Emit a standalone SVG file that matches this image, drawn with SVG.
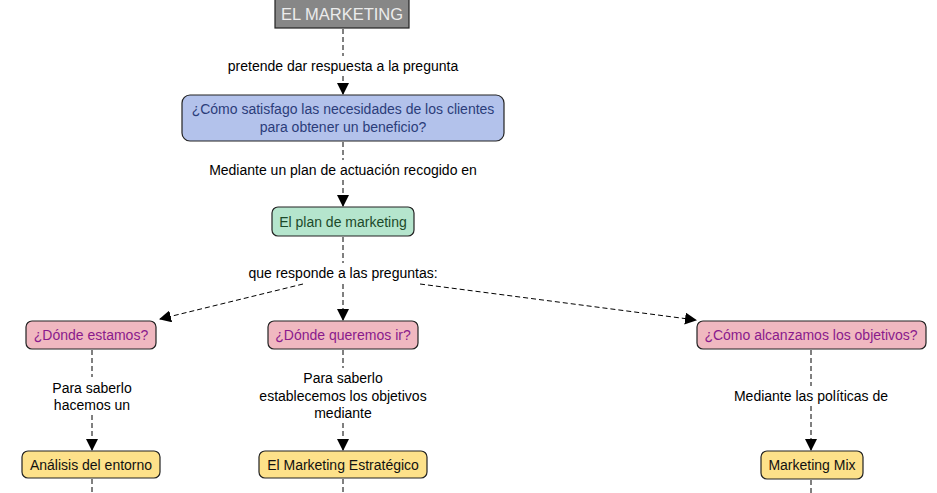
<svg xmlns="http://www.w3.org/2000/svg" width="937" height="493" viewBox="0 0 937 493">
<defs>
<marker id="ah" markerWidth="12" markerHeight="12" refX="11" refY="6" orient="auto" markerUnits="userSpaceOnUse">
<path d="M0,0 L12,6 L0,12 Z" fill="#000"/>
</marker>
<style>
text{font-family:"Liberation Sans",Arial,sans-serif;font-size:14px;text-anchor:middle;dominant-baseline:central}
.c{stroke:#000;stroke-width:1;stroke-dasharray:5,3;fill:none}
.a{marker-end:url(#ah)}
.box{stroke:#222;stroke-width:1.2}
.blue{fill:#b3c2eb}
.green{fill:#b5e5cd}
.pink{fill:#f0b8c0}
.yel{fill:#fde18a}
.lbl{fill:#000}
</style>
</defs>
<rect width="937" height="493" fill="#fff"/>
<g id="connectors">
<line class="c" x1="343" y1="29" x2="343" y2="56"/>
<line class="c a" x1="343" y1="76" x2="343" y2="94"/>
<line class="c" x1="343" y1="142" x2="343" y2="160"/>
<line class="c a" x1="343" y1="180" x2="343" y2="206"/>
<line class="c" x1="343" y1="237" x2="343" y2="263"/>
<line class="c a" x1="303" y1="284" x2="160" y2="319"/>
<line class="c a" x1="343" y1="284" x2="343" y2="320"/>
<line class="c a" x1="420" y1="284" x2="696" y2="320"/>
<line class="c" x1="92" y1="350" x2="92" y2="377"/>
<line class="c a" x1="92" y1="415" x2="92" y2="450"/>
<line class="c" x1="343" y1="350" x2="343" y2="368"/>
<line class="c a" x1="343" y1="423" x2="343" y2="450"/>
<line class="c" x1="811" y1="350" x2="811" y2="386"/>
<line class="c a" x1="811" y1="406" x2="811" y2="450"/>
<line class="c" x1="92" y1="479" x2="92" y2="493"/>
<line class="c" x1="343" y1="479" x2="343" y2="493"/>
<line class="c" x1="811" y1="480" x2="811" y2="493"/>
<g class="lbl">
<text x="343" y="66">pretende dar respuesta a la pregunta</text>
<text x="343" y="170">Mediante un plan de actuación recogido en</text>
<text x="343" y="273">que responde a las preguntas:</text>
<text x="92" y="388">Para saberlo</text>
<text x="92" y="405">hacemos un</text>
<text x="343" y="378">Para saberlo</text>
<text x="343" y="396">establecemos los objetivos</text>
<text x="343" y="413">mediante</text>
<text x="811" y="396">Mediante las políticas de</text>
</g>
</g>
<g id="n-marketing">
<rect x="275" y="-1" width="134" height="29" fill="#878787" stroke="#222" stroke-width="1.2"/>
<text x="342" y="14" style="font-size:16.5px;fill:#ececec">EL MARKETING</text>
</g>
<g id="n-pregunta">
<rect class="box blue" x="182" y="95" width="322" height="46" rx="8"/>
<text x="343" y="109" fill="#2b3d7a">¿Cómo satisfago las necesidades de los clientes</text>
<text x="343" y="127" fill="#2b3d7a">para obtener un beneficio?</text>
</g>
<g id="n-plan">
<rect class="box green" x="272" y="207" width="142" height="29" rx="6"/>
<text x="343" y="222" fill="#1c4a2a">El plan de marketing</text>
</g>
<g id="n-estamos">
<rect class="box pink" x="26" y="321" width="130" height="28" rx="6"/>
<text x="91" y="335" fill="#8a1a8c">¿Dónde estamos?</text>
</g>
<g id="n-queremos">
<rect class="box pink" x="268" y="321" width="150" height="28" rx="6"/>
<text x="343" y="335" fill="#8a1a8c">¿Dónde queremos ir?</text>
</g>
<g id="n-alcanzamos">
<rect class="box pink" x="697" y="321" width="229" height="28" rx="6"/>
<text x="811" y="335" fill="#8a1a8c">¿Cómo alcanzamos los objetivos?</text>
</g>
<g id="n-analisis">
<rect class="box yel" x="22" y="451" width="138" height="27" rx="6"/>
<text x="91" y="465" fill="#111">Análisis del entorno</text>
</g>
<g id="n-estrategico">
<rect class="box yel" x="259" y="451" width="168" height="27" rx="6"/>
<text x="343" y="465" fill="#111">El Marketing Estratégico</text>
</g>
<g id="n-mix">
<rect class="box yel" x="761" y="451" width="102" height="28" rx="6"/>
<text x="812" y="465" fill="#111">Marketing Mix</text>
</g>
</svg>
